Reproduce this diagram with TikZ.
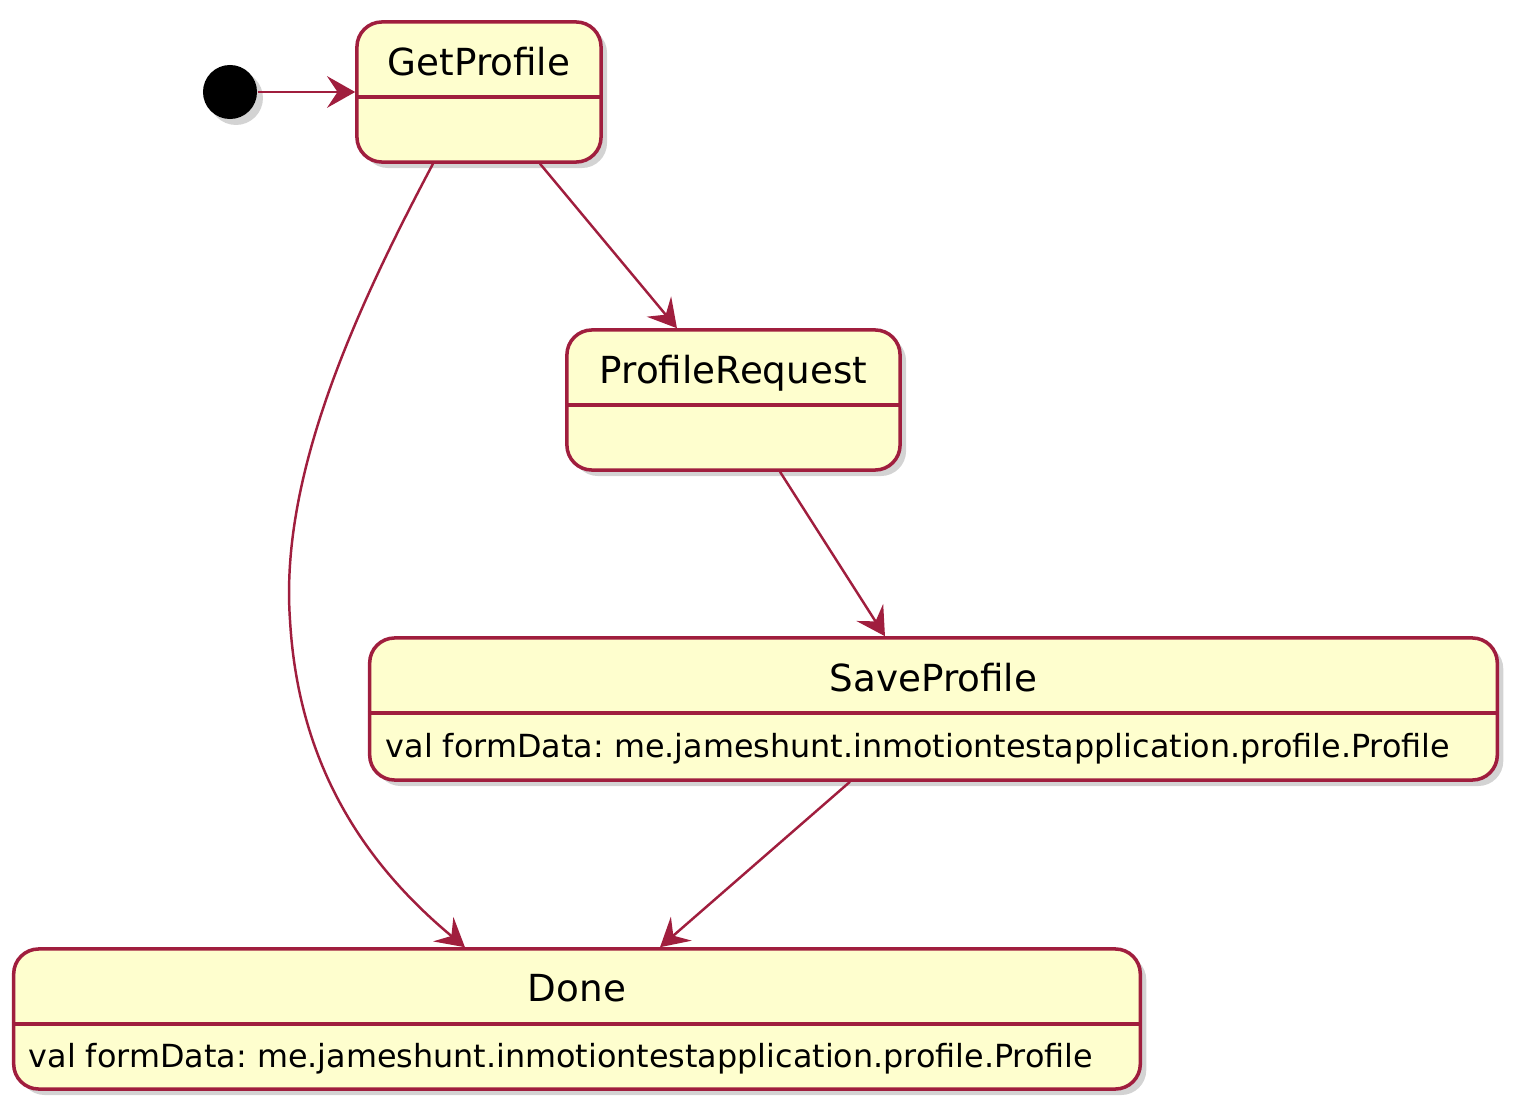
\documentclass[tikz,border=0pt]{standalone}
\usepackage{fontspec}
\setmainfont{DejaVu Sans}
\usetikzlibrary{arrows.meta, shadows}
\definecolor{umlred}{HTML}{A01E3E}
\definecolor{umlfill}{HTML}{FEFECE}
\frenchspacing
\tikzset{
    umlshadow/.style={drop shadow={shadow xshift=1.7pt, shadow yshift=-1.7pt, opacity=0.35}},
    state/.style={draw=umlred, fill=umlfill, line width=1pt, rounded corners=0.25cm, umlshadow},
    divider/.style={umlred, line width=1pt},
    trans/.style={umlred, line width=0.7pt, -{Stealth[length=8pt, width=9pt, inset=3pt]}},
    title/.style={anchor=base, font=\fontsize{10.6}{12}\selectfont},
    body/.style={anchor=base west, inner sep=0pt, font=\fontsize{9.05}{11}\selectfont}
}
\begin{document}
\begin{tikzpicture}[x=0.01cm, y=-0.01cm]
    \useasboundingbox (0,0) rectangle (1520,1112);
    \node (start) at (230,92) [circle, fill=black, minimum size=0.54cm, inner sep=0pt, umlshadow] {};
    \node (getprofile) at (479,92) [state, minimum width=2.44cm, minimum height=1.40cm] {};
    \node (profilerequest) at (733.5,400) [state, minimum width=3.33cm, minimum height=1.40cm] {};
    \node (saveprofile) at (933.5,709) [state, minimum width=11.27cm, minimum height=1.42cm] {};
    \node (done) at (577,1019) [state, minimum width=11.26cm, minimum height=1.40cm] {};
    \draw [divider] ([yshift=-0.05cm]getprofile.west) -- ([yshift=-0.05cm]getprofile.east);
    \draw [divider] ([yshift=-0.05cm]profilerequest.west) -- ([yshift=-0.05cm]profilerequest.east);
    \draw [divider] ([yshift=-0.04cm]saveprofile.west) -- ([yshift=-0.04cm]saveprofile.east);
    \draw [divider] ([yshift=-0.05cm]done.west) -- ([yshift=-0.05cm]done.east);
    \node (getprofiletitle) at (479,75) [title] {GetProfile};
    \node (profilerequesttitle) at (733.5,383) [title] {ProfileRequest};
    \node (saveprofiletitle) at (933.5,691) [title] {SaveProfile};
    \node (savebody) at (385,757) [body] {val formData: me.jameshunt.inmotiontestapplication.profile.Profile};
    \node (donetitle) at (577,1001) [title] {Done};
    \node (donebody) at (28,1067) [body] {val formData: me.jameshunt.inmotiontestapplication.profile.Profile};
    \draw [trans] (start) -- (getprofile);
    \draw [trans] ([xshift=0.61cm]getprofile.south) -- ([xshift=-0.565cm]profilerequest.north);
    \draw [trans] ([xshift=0.465cm]profilerequest.south) -- ([xshift=-0.485cm]saveprofile.north);
    \draw [trans] ([xshift=-0.835cm]saveprofile.south) -- ([xshift=0.83cm]done.north);
    \draw [trans] ([xshift=-0.46cm]getprofile.south) .. controls (350,320) and (280,480) .. (290,620)
        .. controls (298,760) and (360,860) .. ([xshift=-1.12cm]done.north);
\end{tikzpicture}
\end{document}
